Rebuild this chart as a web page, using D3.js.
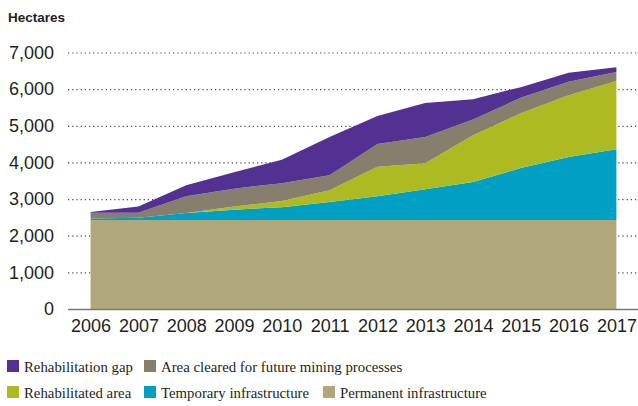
<!DOCTYPE html>
<meta charset="utf-8">
<style>
body { margin: 0; background: #fff; }
.axis .domain { display: none; }
</style>
<svg width="638" height="406"></svg>
<script src="https://d3js.org/d3.v7.min.js"></script>
<script>

// years along the x axis
var years = [2006, 2007, 2008, 2009, 2010, 2011, 2012, 2013, 2014, 2015, 2016, 2017];

// hectares per series (stacked bottom to top)
var permanent     = [2430, 2430, 2430, 2430, 2430, 2430, 2430, 2430, 2430, 2430, 2430, 2430];
var temporary     = [40, 60, 190, 280, 350, 490, 650, 835, 1035, 1415, 1720, 1930];
var rehabilitated = [0, 0, 0, 90, 165, 320, 800, 710, 1275, 1500, 1685, 1865];
var cleared       = [160, 140, 455, 485, 490, 410, 620, 720, 430, 420, 365, 245];
var gap           = [20, 170, 300, 445, 640, 1045, 765, 930, 555, 290, 245, 130];

var yTicks = [0, 1000, 2000, 3000, 4000, 5000, 6000, 7000];

var keys = ["permanent", "temporary", "rehabilitated", "cleared", "gap"];
var labels = {
  gap: "Rehabilitation gap",
  cleared: "Area cleared for future mining processes",
  rehabilitated: "Rehabilitated area",
  temporary: "Temporary infrastructure",
  permanent: "Permanent infrastructure"
};
var colors = {
  permanent: "#b0a87b",
  temporary: "#00a0c4",
  rehabilitated: "#aeba22",
  cleared: "#877e6d",
  gap: "#523191"
};

var table = years.map(function(y, i) {
  return {year: y, permanent: permanent[i], temporary: temporary[i],
          rehabilitated: rehabilitated[i], cleared: cleared[i], gap: gap[i]};
});

var svg = d3.select("svg");

var x = d3.scaleLinear().domain([2006, 2017]).range([90.6, 616.4]);
var y = d3.scaleLinear().domain([0, 7000]).range([309, 52.5]);

// y axis with dotted grid
var gy = svg.append("g")
    .attr("class", "axis")
    .attr("transform", "translate(68,0)")
    .call(d3.axisLeft(y).tickValues(yTicks).tickSize(-570).tickPadding(14)
      .tickFormat(d3.format(",")));
gy.selectAll(".tick line")
    .attr("stroke", "#444")
    .attr("stroke-width", 1.2)
    .attr("stroke-dasharray", "1.2,3");
gy.selectAll(".tick text")
    .attr("font-family", "Liberation Sans, Arial, sans-serif")
    .attr("font-size", 18)
    .attr("fill", "#231f20");

var series = d3.stack().keys(keys)(table);

var area = d3.area()
    .x(function(d) { return x(d.data.year); })
    .y0(function(d) { return y(d[0]); })
    .y1(function(d) { return y(d[1]); });

svg.append("g")
  .selectAll("path")
  .data(series)
  .enter().append("path")
    .attr("fill", function(d) { return colors[d.key]; })
    .attr("d", area);

// solid baseline over the 0 grid line
gy.selectAll(".tick").filter(function(d) { return d === 0; }).select("line")
    .attr("stroke-dasharray", null)
    .attr("stroke", "#777")
    .attr("stroke-width", 1.3)
    .raise();
gy.raise();
gy.selectAll(".tick").filter(function(d) { return d !== 0; }).select("line").remove();
svg.insert("g", ":first-child")
    .attr("class", "axis")
    .attr("transform", "translate(68,0)")
    .call(d3.axisLeft(y).tickValues(yTicks.slice(1)).tickSize(-570).tickFormat(""))
  .selectAll(".tick line")
    .attr("stroke", "#444")
    .attr("stroke-width", 1.2)
    .attr("stroke-dasharray", "1.2,3");

// x axis
svg.append("g")
    .attr("class", "axis")
    .attr("transform", "translate(0,309)")
    .call(d3.axisBottom(x).tickValues(years).tickSize(0).tickPadding(10)
      .tickFormat(d3.format("d")))
  .selectAll("text")
    .attr("font-family", "Liberation Sans, Arial, sans-serif")
    .attr("font-size", 18)
    .attr("fill", "#231f20");

svg.append("text")
    .attr("x", 8)
    .attr("y", 21.5)
    .attr("font-family", "Liberation Sans, Arial, sans-serif")
    .attr("font-weight", "bold")
    .attr("font-size", 13.5)
    .attr("fill", "#231f20")
    .text("Hectares");

// legend
var legendItems = [
  {key: "gap", col: 0, row: 0},
  {key: "cleared", col: 1, row: 0},
  {key: "rehabilitated", col: 0, row: 1},
  {key: "temporary", col: 1, row: 1},
  {key: "permanent", col: 2, row: 1}
];
var colX = [7, 144, 323];

var legend = svg.append("g")
    .attr("font-family", "Liberation Serif, Times New Roman, serif")
    .attr("font-size", 14.8)
    .attr("fill", "#231f20")
  .selectAll("g")
  .data(legendItems)
  .enter().append("g")
    .attr("transform", function(d) { return "translate(" + colX[d.col] + "," + (360 + d.row * 26) + ")"; });

legend.append("rect")
    .attr("width", 12)
    .attr("height", 12)
    .attr("fill", function(d) { return colors[d.key]; });

legend.append("text")
    .attr("x", 17)
    .attr("y", 11.5)
    .text(function(d) { return labels[d.key]; });

</script>
